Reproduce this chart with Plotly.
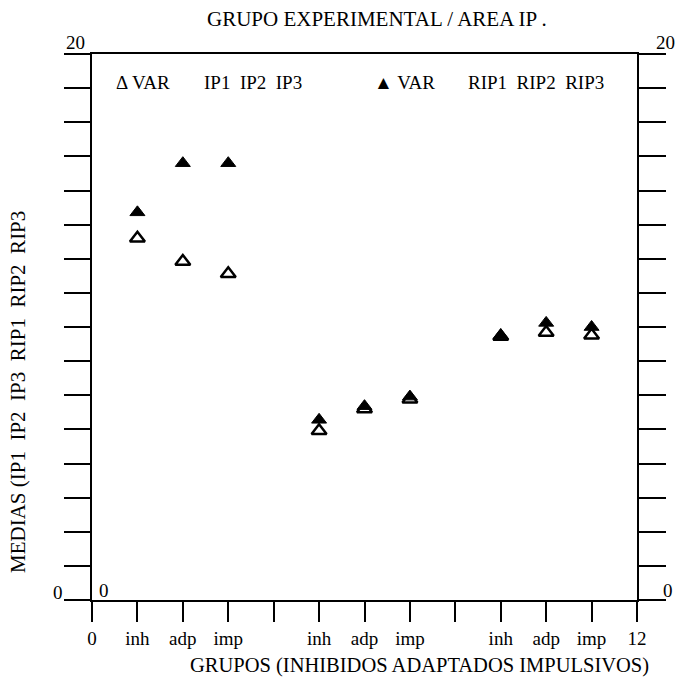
import plotly.graph_objects as go

# Data
x_pos = [1, 2, 3, 5, 6, 7, 9, 10, 11]
ip_vals = [13.25, 12.4, 11.95, 6.2, 7.0, 7.35, 9.65, 9.8, 9.7]
rip_vals = [14.2, 16.0, 16.0, 6.6, 7.1, 7.45, 9.7, 10.15, 10.0]
x_tickvals = [0, 1, 2, 3, 4, 5, 6, 7, 8, 9, 10, 11, 12]
x_ticktext = ["0", "inh", "adp", "imp", "", "inh", "adp", "imp", "", "inh", "adp", "imp", "12"]
y_tickvals = [i * 1.25 for i in range(17)]

FONT = "Liberation Serif, Times New Roman, serif"
FS = 19

fig = go.Figure()
fig.add_trace(go.Scatter(
    x=x_pos, y=ip_vals, mode="markers",
    marker=dict(symbol="triangle-up-open", size=13, color="black", line=dict(width=2.5, color="black")),
    showlegend=False,
))
fig.add_trace(go.Scatter(
    x=x_pos, y=rip_vals, mode="markers",
    marker=dict(symbol="triangle-up", size=13, color="black", line=dict(width=1, color="black")),
    showlegend=False,
))
# invisible trace for right axis
fig.add_trace(go.Scatter(x=[0], y=[0], yaxis="y2", mode="markers",
                         marker=dict(opacity=0), showlegend=False, hoverinfo="skip"))

fig.update_layout(
    width=678, height=677,
    margin=dict(l=92, r=41, t=54, b=77),
    plot_bgcolor="white", paper_bgcolor="white",
    font=dict(family=FONT, size=FS, color="black"),
    xaxis=dict(
        range=[0, 12], tickvals=x_tickvals, ticktext=x_ticktext,
        showline=True, linecolor="black", linewidth=2, mirror=True,
        ticks="outside", ticklen=20, tickwidth=2, tickcolor="black",
        showgrid=False, zeroline=False, tickfont=dict(size=FS, family=FONT),
    ),
    yaxis=dict(
        range=[0, 20], tickvals=y_tickvals, showticklabels=False,
        showline=True, linecolor="black", linewidth=2,
        ticks="outside", ticklen=26, tickwidth=2, tickcolor="black",
        showgrid=False, zeroline=False,
    ),
    yaxis2=dict(
        range=[0, 20], tickvals=y_tickvals, showticklabels=False,
        overlaying="y", side="right",
        showline=True, linecolor="black", linewidth=2,
        ticks="outside", ticklen=27, tickwidth=2, tickcolor="black",
        showgrid=False, zeroline=False,
    ),
)

# positions in window pixels, converted to plot-area fractions
px0, px1 = 92, 637
py0, py1 = 54, 600
anns = [
    dict(text="GRUPO EXPERIMENTAL / AREA IP .", x=377, y=19, size=21),
    dict(text="GRUPOS (INHIBIDOS ADAPTADOS IMPULSIVOS)", x=419, y=665, size=20.5),
    dict(text="20", x=75, y=42, size=FS),
    dict(text="20", x=665, y=42, size=FS),
    dict(text="0", x=58, y=592, size=FS),
    dict(text="0", x=104, y=590, size=FS),
    dict(text="0", x=668, y=590, size=FS),
    dict(text="Δ VAR", x=143, y=82, size=FS),
    dict(text="IP1&nbsp;&nbsp;IP2&nbsp;&nbsp;IP3", x=253, y=82, size=FS),
    dict(text="▲ VAR", x=404, y=82, size=FS),
    dict(text="RIP1&nbsp;&nbsp;RIP2&nbsp;&nbsp;RIP3", x=536, y=82, size=FS),
]
for a in anns:
    fx = (a["x"] - px0) / (px1 - px0)
    fy = (py1 - a["y"]) / (py1 - py0)
    fig.add_annotation(text=a["text"], x=fx, y=fy,
                       xref="paper", yref="paper", showarrow=False,
                       xanchor="center", yanchor="middle",
                       font=dict(family=FONT, size=a["size"], color="black"))

fig.add_annotation(text="MEDIAS (IP1&nbsp;&nbsp;IP2&nbsp;&nbsp;IP3&nbsp;&nbsp;RIP1&nbsp;&nbsp;RIP2&nbsp;&nbsp;RIP3",
                   x=(18 - px0) / (px1 - px0), y=(py1 - 392) / (py1 - py0),
                   xref="paper", yref="paper", showarrow=False, textangle=-90,
                   xanchor="center", yanchor="middle",
                   font=dict(family=FONT, size=21, color="black"))

fig.write_html("out.html", config={"displayModeBar": False},
               post_script="document.body.style.margin='0px';document.body.style.overflow='hidden';")
